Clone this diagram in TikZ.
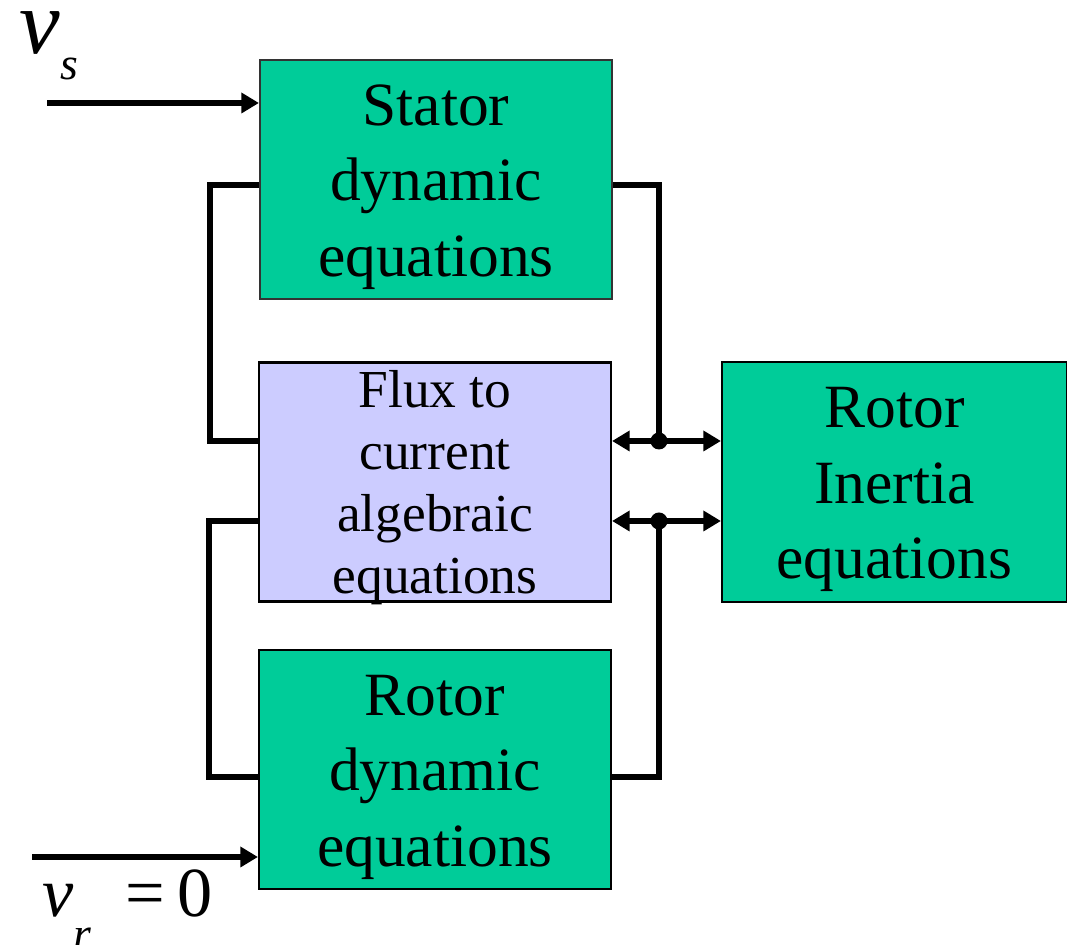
\documentclass[tikz,border=0pt]{standalone}
\usepackage{fontspec}
\setmainfont{Liberation Serif}
\usetikzlibrary{arrows.meta}
\definecolor{SeaGreen}{RGB}{0, 204, 153}
\definecolor{Lavender}{RGB}{204, 204, 255}
% taller first line, pushes the block text a little down
\newcommand{\topline}{\rule{0pt}{0.91em}}

\begin{document}
\begin{tikzpicture}[
    >={Triangle[length=5pt, width=5.6pt]},
    box/.style={
        draw=black, line width=0.6pt, fill=SeaGreen,
        minimum width=3.52cm, minimum height=2.39cm, align=center,
        inner sep=0pt, font=\fontsize{17.5}{21.5}\selectfont
    },
    fluxbox/.style={
        box, fill=Lavender, font=\fontsize{15.2}{17.6}\selectfont
    },
    wire/.style={line width=1.6pt, black},
    sig/.style={inner sep=0pt, anchor=base west},
]
\useasboundingbox (0,0) rectangle (10.67,-9.45);

%% Equation blocks
\node[box, draw=black!80] (stator) at (4.36, -1.795)
    {\topline Stator\\dynamic\\equations};
\node[fluxbox] (flux) at (4.35, -4.82)
    {Flux to\\current\\algebraic\\\smash{equations}};
\node[box] (rotor) at (4.35, -7.695)
    {\topline Rotor\\dynamic\\equations};
\node[box, minimum width=3.45cm, minimum height=2.40cm] (inertia) at (8.945, -4.82)
    {\topline Rotor\\Inertia\\equations};

%% Inputs
\coordinate (vsin) at (0.47, -1.03);
\coordinate (vrin) at (0.32, -8.57);
\draw[wire, ->] (vsin) -- (stator.west |- vsin);
\draw[wire, ->] (vrin) -- (rotor.west |- vrin);

\node[sig, font=\fontsize{26}{26}\selectfont] (vs) at (0.19, -0.54)
    {\textit{v}\raisebox{-0.26cm}{\fontsize{13}{13}\selectfont\textit{s}}};
\node[sig, font=\fontsize{20}{20}\selectfont] (vr) at (0.42, -9.17)
    {\textit{v}\raisebox{-0.33cm}{\fontsize{13}{13}\selectfont\textit{r}}\hspace{0.34cm}=\hspace{0.12cm}0};

%% Left loops into the flux block
\draw[wire] ([yshift=-0.055cm]stator.west) -- ++(-0.49, 0) |- ([yshift=0.41cm]flux.west);
\draw[wire] ([yshift=-0.075cm]rotor.west) -- ++(-0.49, 0) |- ([yshift=-0.39cm]flux.west);

%% Junctions on the right
\coordinate (j1) at (6.59, -4.41);
\coordinate (j2) at (6.59, -5.21);
\draw[wire] ([yshift=-0.055cm]stator.east) -| (j1);
\draw[wire] ([yshift=-0.075cm]rotor.east) -| (j2);
\draw[wire, <->] (flux.east |- j1) -- (inertia.west |- j1);
\draw[wire, <->] (flux.east |- j2) -- (inertia.west |- j2);
\fill (j1) circle (0.085);
\fill (j2) circle (0.085);

\end{tikzpicture}
\end{document}
